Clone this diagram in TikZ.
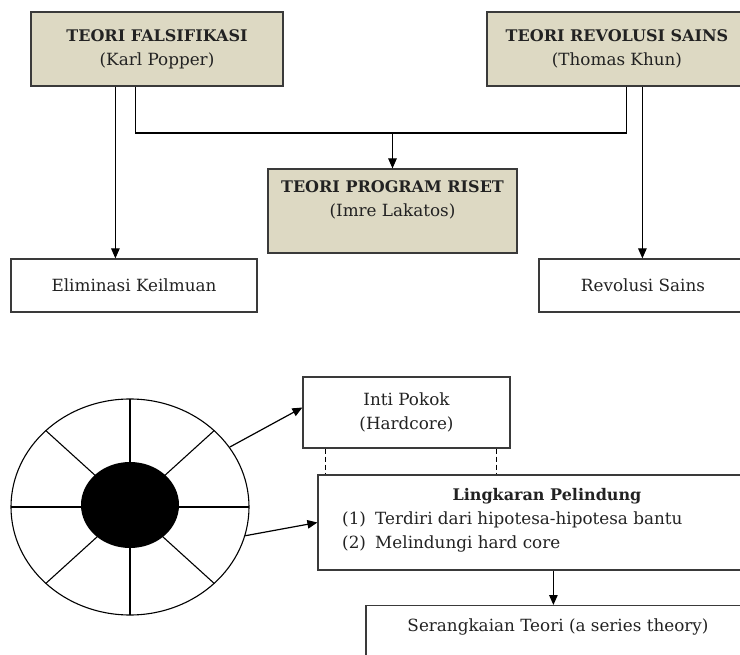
\documentclass[tikz,border=0pt]{standalone}
\usepackage{fontspec}
\setmainfont{DejaVu Serif}
\usetikzlibrary{arrows.meta,shapes.geometric,calc}
\definecolor{tan}{HTML}{DDD9C3}
\definecolor{edge}{HTML}{3A3A3A}
\definecolor{ink}{HTML}{222222}
\newcommand{\regfont}{\fontsize{16.8}{24}\selectfont}
\newcommand{\boldhead}[1]{{\fontsize{16}{24}\selectfont\bfseries #1}}
\tikzset{
  box/.style={draw=edge,line width=1.2pt,align=center,inner sep=0pt,text=ink,font=\regfont},
  tanbox/.style={box,fill=tan},
  txt/.style={inner sep=0pt,text=ink,font=\regfont},
  conn/.style={draw=black,line width=1.2pt},
  arr/.style={conn,-{Triangle[length=10pt,width=8.5pt]}}
}
\begin{document}
\begin{tikzpicture}[x=1pt,y=-1pt]
\useasboundingbox (0,0) rectangle (740,655);
\clip (0,0) rectangle (740,655);
% top row
\node[tanbox,minimum width=252,minimum height=74] (fal) at (157,49) {\boldhead{TEORI FALSIFIKASI}\\(Karl Popper)};
\node[tanbox,minimum width=260,minimum height=74] (rev) at (617,49) {\boldhead{TEORI REVOLUSI SAINS}\\(Thomas Khun)};
\node[tanbox,minimum width=249,minimum height=84] (prog) at (392.5,211) {\boldhead{TEORI PROGRAM RISET}\\(Imre Lakatos)\\ };
\node[box,minimum width=246,minimum height=53] (elim) at (134,285.5) {Eliminasi Keilmuan};
\node[box,minimum width=208,minimum height=53] (revs) at (643,285.5) {Revolusi Sains};
\coordinate (j) at (392.5,133);
\draw[arr] ([xshift=85pt]fal.south west) -- ([xshift=85pt]fal.south west |- elim.north);
\draw[conn] ([xshift=105pt]fal.south west) |- (j);
\draw[conn] ([xshift=140pt]rev.south west) |- (j);
\draw[arr] (j) -- (prog.north);
\draw[arr] ([xshift=156pt]rev.south west) -- ([xshift=156pt]rev.south west |- revs.north);
% wheel
\node[draw=black,line width=1.1pt,ellipse,minimum width=238,minimum height=216,inner sep=0pt] (wheel) at (130,507) {};
\foreach \a in {0,45,...,315}{
  \draw[line width=1.1pt] (wheel.center) -- ($(wheel.center)+({119*cos(\a)},{-108*sin(\a)})$);
}
\node[fill=black,ellipse,minimum width=98,minimum height=86,inner sep=0pt] (core) at (130,505) {};
% right side lower
\node[box,minimum width=207,minimum height=71] (inti) at (406.5,412.5) {Inti Pokok\\(Hardcore)};
\node[box,minimum width=460,minimum height=95] (lp) at (548,522.5) {};
\node[txt] (lpt) at (547,496) {\boldhead{Lingkaran Pelindung}};
\node[txt,anchor=west] (lp1) at (342,520) {(1)\hspace{0.55em}Terdiri dari hipotesa-hipotesa bantu};
\node[txt,anchor=west] (lp2) at (342,544) {(2)\hspace{0.55em}Melindungi hard core};
\node[box,minimum width=384,minimum height=60,anchor=north] (ser) at (558,605) {};
\node[txt] (sert) at (558,627) {Serangkaian Teori (a series theory)};
\draw[arr] (wheel.31) -- ([yshift=5pt]inti.west);
\draw[arr] (wheel.-14) -- (lp.west);
\draw[conn,dash pattern=on 5pt off 3pt] ([xshift=23pt]inti.south west) -- ([xshift=23pt]inti.south west |- lp.north);
\draw[conn,dash pattern=on 5pt off 3pt] ([xshift=-14pt]inti.south east) -- ([xshift=-14pt]inti.south east |- lp.north);
\draw[arr] ([xshift=236pt]lp.south west) -- ([xshift=236pt]lp.south west |- ser.north);
\end{tikzpicture}
\end{document}
